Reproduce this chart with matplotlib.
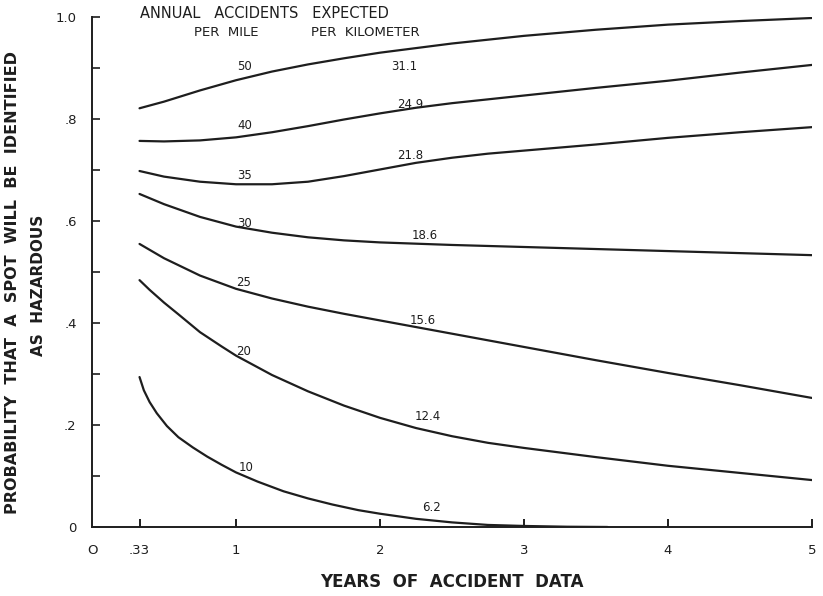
"""Probability that a spot will be identified as hazardous vs. years of accident data."""

import matplotlib
matplotlib.use('Agg')
import matplotlib.pyplot as plt

# ── Curve readings (years of data -> probability) ──────────────────────────
X_50 = [0.33, 0.5, 0.75, 1.0, 1.25, 1.5, 1.75, 2.0, 2.5, 3.0, 3.5, 4.0, 4.5, 5.0]
Y_50 = [0.821, 0.834, 0.856, 0.876, 0.893, 0.907, 0.919, 0.930, 0.948, 0.963, 0.975, 0.985, 0.992, 0.998]

X_40 = [0.33, 0.5, 0.75, 1.0, 1.25, 1.5, 1.75, 2.0, 2.25, 2.5, 3.0, 3.5, 4.0, 4.5, 5.0]
Y_40 = [0.757, 0.756, 0.758, 0.764, 0.774, 0.786, 0.799, 0.811, 0.822, 0.831, 0.846, 0.861, 0.875, 0.891, 0.906]

X_35 = [0.33, 0.5, 0.75, 1.0, 1.25, 1.5, 1.75, 2.0, 2.25, 2.5, 2.75, 3.0, 3.5, 4.0, 4.5, 5.0]
Y_35 = [0.698, 0.687, 0.677, 0.672, 0.672, 0.677, 0.688, 0.701, 0.714, 0.724, 0.732, 0.738, 0.750, 0.763, 0.774, 0.784]

X_30 = [0.33, 0.5, 0.75, 1.0, 1.25, 1.5, 1.75, 2.0, 2.5, 3.0, 3.5, 4.0, 4.5, 5.0]
Y_30 = [0.653, 0.633, 0.608, 0.589, 0.577, 0.568, 0.562, 0.558, 0.553, 0.549, 0.545, 0.541, 0.537, 0.533]

X_25 = [0.33, 0.5, 0.75, 1.0, 1.25, 1.5, 1.75, 2.0, 2.5, 3.0, 3.5, 4.0, 4.5, 5.0]
Y_25 = [0.555, 0.527, 0.493, 0.467, 0.448, 0.432, 0.418, 0.405, 0.379, 0.353, 0.327, 0.302, 0.278, 0.253]

X_20 = [0.33, 0.4, 0.5, 0.6, 0.75, 0.9, 1.0, 1.25, 1.5, 1.75, 2.0, 2.25, 2.5, 2.75, 3.0, 3.5, 4.0, 4.5, 5.0]
Y_20 = [0.484, 0.465, 0.440, 0.417, 0.382, 0.354, 0.336, 0.298, 0.266, 0.238, 0.214, 0.194, 0.178, 0.165,
        0.155, 0.137, 0.120, 0.106, 0.092]

X_10 = [0.33, 0.36, 0.4, 0.45, 0.52, 0.6, 0.7, 0.8, 0.9, 1.0, 1.15, 1.33, 1.5, 1.67, 1.85, 2.0,
        2.25, 2.5, 2.75, 3.0, 3.3, 3.58]
Y_10 = [0.294, 0.268, 0.245, 0.223, 0.198, 0.176, 0.156, 0.138, 0.122, 0.107, 0.089, 0.070, 0.056,
        0.044, 0.033, 0.026, 0.016, 0.009, 0.004, 0.002, 0.0005, 0.0]

PER_MILE = ['50', '40', '35', '30', '25', '20', '10']
PER_KM   = ['31.1', '24.9', '21.8', '18.6', '15.6', '12.4', '6.2']

# label anchor positions (data coords) for per-mile and per-km labels
MILE_POS = [(1.06, 0.902), (1.06, 0.788), (1.06, 0.690), (1.06, 0.596),
            (1.05, 0.480), (1.05, 0.345), (1.07, 0.117)]
KM_POS   = [(2.17, 0.902), (2.21, 0.829), (2.21, 0.729), (2.31, 0.571),
            (2.30, 0.404), (2.33, 0.216), (2.36, 0.039)]

X_TICKS  = [0, 0.33, 1, 2, 3, 4, 5]
X_LABELS = ['O', '.33', '1', '2', '3', '4', '5']
Y_TICKS  = [0, 0.2, 0.4, 0.6, 0.8, 1.0]
Y_LABELS = ['0', '.2', '.4', '.6', '.8', '1.0']

INK = '#1e1e1e'


def main():
    fig = plt.figure(figsize=(8.23, 5.96), dpi=100)
    ax = fig.add_axes([0.1118, 0.1158, 0.8748, 0.8557])

    curves = [(X_50, Y_50), (X_40, Y_40), (X_35, Y_35), (X_30, Y_30),
              (X_25, Y_25), (X_20, Y_20), (X_10, Y_10)]
    for xs, ys in curves:
        ax.plot(xs, ys, color=INK, lw=1.6, solid_capstyle='round', solid_joinstyle='round')

    for lbl, (x, y) in zip(PER_MILE, MILE_POS):
        ax.text(x, y, lbl, ha='center', va='center', fontsize=8.5, color=INK)
    for lbl, (x, y) in zip(PER_KM, KM_POS):
        ax.text(x, y, lbl, ha='center', va='center', fontsize=8.5, color=INK)

    ax.text(0.33, 1.006, 'ANNUAL   ACCIDENTS   EXPECTED', ha='left', va='center',
            fontsize=10.5, color=INK)
    ax.text(0.93, 0.969, 'PER  MILE', ha='center', va='center', fontsize=9.5, color=INK)
    ax.text(1.90, 0.969, 'PER  KILOMETER', ha='center', va='center', fontsize=9.5, color=INK)

    ax.set_xlim(0, 5)
    ax.set_ylim(0, 1.0)
    for s in ['top', 'right']:
        ax.spines[s].set_visible(False)
    for s in ['left', 'bottom']:
        ax.spines[s].set_linewidth(1.4)
        ax.spines[s].set_color(INK)

    ax.set_xticks(X_TICKS)
    ax.set_xticklabels(X_LABELS, fontsize=9.5, color=INK)
    ax.set_yticks(Y_TICKS)
    ax.set_yticklabels(Y_LABELS, fontsize=9.5, color=INK)
    ax.set_yticks([0.1, 0.3, 0.5, 0.7, 0.9], minor=True)
    ax.tick_params(axis='x', direction='in', length=6, width=1.4, pad=12, color=INK)
    ax.tick_params(axis='y', which='both', direction='in', length=6, width=1.2,
                   pad=11, color=INK)
    ax.xaxis.get_major_ticks()[0].tick1line.set_visible(False)

    ax.set_xlabel('YEARS  OF  ACCIDENT  DATA', fontsize=12, fontweight='bold',
                  labelpad=12, color=INK)

    # two-line rotated y label, placed by hand like the original lettering
    fig.text(13 / 823, 1 - 282 / 596,
             'PROBABILITY  THAT  A  SPOT  WILL  BE  IDENTIFIED',
             rotation=90, ha='center', va='center', fontsize=11.5, fontweight='bold', color=INK)
    fig.text(39 / 823, 1 - 285 / 596, 'AS  HAZARDOUS',
             rotation=90, ha='center', va='center', fontsize=11, fontweight='bold', color=INK)

    fig.savefig('out.png', dpi=100)
    plt.close(fig)


if __name__ == "__main__":
    main()
